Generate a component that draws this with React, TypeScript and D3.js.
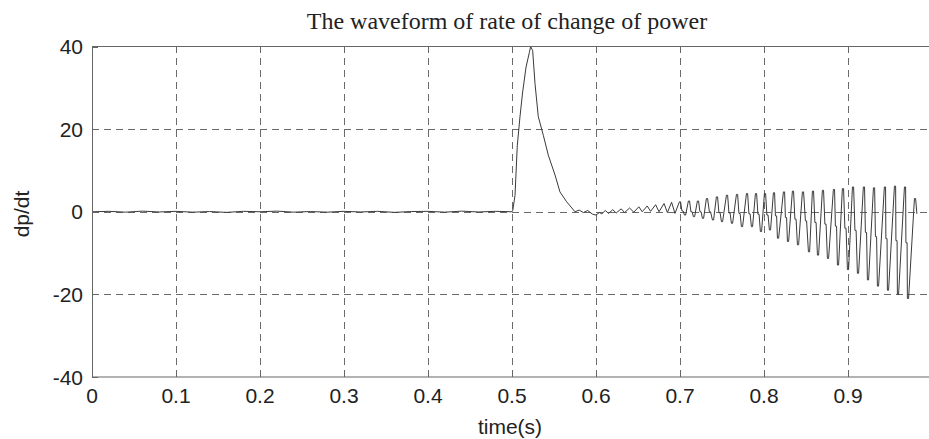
import React, { useEffect, useRef } from 'react';
import * as d3 from 'd3';

// dp/dt samples, [time(s), value]
const baseline: [number, number][] = [
  [0, 0], [0.02, 0.1], [0.04, -0.1], [0.06, 0.15], [0.08, -0.05], [0.1, 0.1],
  [0.12, -0.1], [0.14, 0.05], [0.16, -0.15], [0.18, 0.1], [0.2, 0], [0.22, 0.15],
  [0.24, -0.1], [0.26, 0.05], [0.28, -0.1], [0.3, 0.1], [0.32, -0.05], [0.34, 0.1],
  [0.36, -0.15], [0.38, 0.05], [0.4, 0.1], [0.42, -0.1], [0.44, 0.15], [0.46, -0.05],
  [0.48, 0.1], [0.5, 0],
];

const pulse: [number, number][] = [
  [0.5008, 0.2], [0.5036, 4], [0.5063, 16], [0.5095, 23], [0.5127, 29],
  [0.5167, 35], [0.5206, 38.5], [0.5222, 40], [0.5246, 39], [0.5274, 31],
  [0.5313, 23], [0.5373, 18.5], [0.5432, 13.7], [0.5512, 8.9], [0.5571, 4.8],
  [0.5651, 2.4], [0.575, 0],
];

const ripple: [number, number][] = [
  [0.58, 0.4], [0.585, -0.2], [0.59, 0.3], [0.596, -0.6], [0.6, -0.8],
  [0.604, -0.2], [0.607, -0.5], [0.611, 0.3], [0.615, -0.4], [0.62, 0.5],
  [0.624, -0.3], [0.63, 0.7], [0.634, -0.2], [0.64, 0.9], [0.645, -0.1],
  [0.651, 1.2], [0.655, 0], [0.661, 1.4], [0.665, 0.1], [0.671, 1.7],
  [0.675, 0], [0.681, 2.0], [0.685, -0.2], [0.69, 2.3], [0.694, -0.4],
];

// oscillation after 0.7 s: per cycle a peak, a shelf on the way down, a trough
const peakT = [
  0.7, 0.7107, 0.7214, 0.7321, 0.744, 0.756, 0.7679, 0.7798, 0.7905, 0.8012,
  0.8119, 0.8238, 0.8345, 0.8464, 0.8583, 0.8702, 0.8833, 0.894, 0.906, 0.919,
  0.931, 0.944, 0.956, 0.9679, 0.9798,
];
const peakV = [
  2.4, 2.6, 2.6, 3.2, 3.6, 4.0, 4.2, 4.4, 4.4, 4.4, 4.6, 4.8, 5.0, 4.8, 5.0,
  5.2, 5.4, 5.6, 6.0, 6.0, 5.8, 6.0, 6.2, 6.0, 3.2,
];
const shelfV = [
  0.2, 0, 0, 0, -0.2, -0.3, -0.4, -0.5, -0.6, -0.8, -1.0, -1.4, -1.8, -2.2,
  -2.6, -3.0, -3.5, -4.0, -4.5, -5.0, -6.0, -6.5, -7.0, -7.5,
];
const troughT = [
  0.706, 0.7167, 0.7274, 0.7393, 0.75, 0.7619, 0.7738, 0.7857, 0.7964, 0.8071,
  0.8167, 0.8286, 0.8405, 0.8536, 0.8643, 0.8762, 0.8881, 0.9, 0.9119, 0.9238,
  0.9357, 0.9476, 0.9595, 0.9714,
];
const troughV = [
  -0.8, -1.2, -1.6, -2.0, -2.4, -2.8, -3.6, -3.6, -4.8, -4.4, -6.4, -7.2, -8.0,
  -9.7, -10.5, -11.3, -12.9, -14.0, -14.9, -16.5, -18.0, -19.0, -20.0, -21.0,
];
const traceEnd: [number, number] = [0.982, -0.5];

const xTicks = [0, 0.1, 0.2, 0.3, 0.4, 0.5, 0.6, 0.7, 0.8, 0.9];
const yTicks = [-40, -20, 0, 20, 40];

const title = 'The waveform of rate of change of power';
const xLabel = 'time(s)';
const yLabel = 'dp/dt';

export default function App() {
  const ref = useRef<SVGSVGElement>(null);

  useEffect(() => {
    const width = 929;
    const height = 439;
    const m = { left: 92, top: 46.5, right: 932, bottom: 377 };

    const svg = d3.select(ref.current);
    svg.selectAll('*').remove();

    const x = d3.scaleLinear().domain([0, 1]).range([m.left, m.right]);
    const y = d3.scaleLinear().domain([-40, 40]).range([m.bottom, m.top]);

    // short flats on top / bottom so the edges look like the scope's square-ish pulses
    const hw = 0.0007;
    const osc: [number, number][] = [];
    peakT.forEach((t, i) => {
      osc.push([t - hw, peakV[i]], [t + hw, peakV[i]]);
      if (i < troughT.length) {
        const mid = (t + troughT[i]) / 2;
        osc.push([mid - hw, shelfV[i]], [mid + hw, shelfV[i]]);
        osc.push([troughT[i] - hw, troughV[i]], [troughT[i] + hw, troughV[i]]);
      }
    });
    const trace = [...baseline, ...pulse, ...ripple, ...osc, traceEnd];

    const grid = svg.append('g').attr('stroke', '#6a6a6a').attr('stroke-width', 1)
      .attr('stroke-dasharray', '7,5');
    grid.selectAll('.gx').data(xTicks.filter((d) => d > 0)).join('line')
      .attr('x1', (d) => Math.round(x(d)) + 0.5).attr('x2', (d) => Math.round(x(d)) + 0.5)
      .attr('y1', m.bottom).attr('y2', m.top);
    grid.selectAll('.gy').data(yTicks.filter((d) => d > -40 && d < 40)).join('line')
      .attr('x1', m.left).attr('x2', m.right)
      .attr('y1', (d) => Math.round(y(d)) + 0.5).attr('y2', (d) => Math.round(y(d)) + 0.5);

    svg.append('path')
      .datum(trace)
      .attr('fill', 'none')
      .attr('stroke', '#3a3a3a')
      .attr('stroke-width', 1)
      .attr('d', d3.line<[number, number]>().x((d) => x(d[0])).y((d) => y(d[1])));

    // frame and inward ticks
    const frame = svg.append('g').attr('stroke', '#666').attr('stroke-width', 1).attr('fill', 'none');
    frame.append('rect')
      .attr('x', m.left + 0.5).attr('y', m.top)
      .attr('width', m.right - m.left).attr('height', m.bottom - m.top);
    xTicks.forEach((t) => {
      const px = Math.round(x(t)) + 0.5;
      frame.append('line').attr('x1', px).attr('x2', px).attr('y1', m.bottom).attr('y2', m.bottom - 6);
      frame.append('line').attr('x1', px).attr('x2', px).attr('y1', m.top).attr('y2', m.top + 6);
    });
    yTicks.forEach((v) => {
      const py = Math.round(y(v)) + 0.5;
      frame.append('line').attr('x1', m.left).attr('x2', m.left + 6).attr('y1', py).attr('y2', py);
    });

    const font = "'Liberation Sans', Arial, sans-serif";
    svg.append('g').selectAll('text').data(xTicks).join('text')
      .attr('x', (d) => x(d)).attr('y', 403)
      .attr('text-anchor', 'middle')
      .attr('font-family', font).attr('font-size', 21).attr('fill', '#222')
      .text((d) => String(d));
    svg.append('g').selectAll('text').data(yTicks).join('text')
      .attr('x', 83).attr('y', (d) => y(d)).attr('dy', '0.36em')
      .attr('text-anchor', 'end')
      .attr('font-family', font).attr('font-size', 21).attr('fill', '#222')
      .text((d) => String(d));

    svg.append('text')
      .attr('x', 510).attr('y', 434)
      .attr('text-anchor', 'middle')
      .attr('font-family', font).attr('font-size', 21).attr('fill', '#222')
      .text(xLabel);
    svg.append('text')
      .attr('transform', `translate(29,214) rotate(-90)`)
      .attr('text-anchor', 'middle')
      .attr('font-family', font).attr('font-size', 21).attr('fill', '#222')
      .text(yLabel);
    svg.append('text')
      .attr('x', 507).attr('y', 29)
      .attr('text-anchor', 'middle')
      .attr('font-family', "'Liberation Serif', serif").attr('font-size', 24).attr('fill', '#222')
      .text(title);

    svg.attr('width', width).attr('height', height);
  }, []);

  return (
    <svg
      ref={ref}
      width={929}
      height={439}
      style={{ position: 'absolute', left: 0, top: 0, background: '#fff' }}
    />
  );
}
